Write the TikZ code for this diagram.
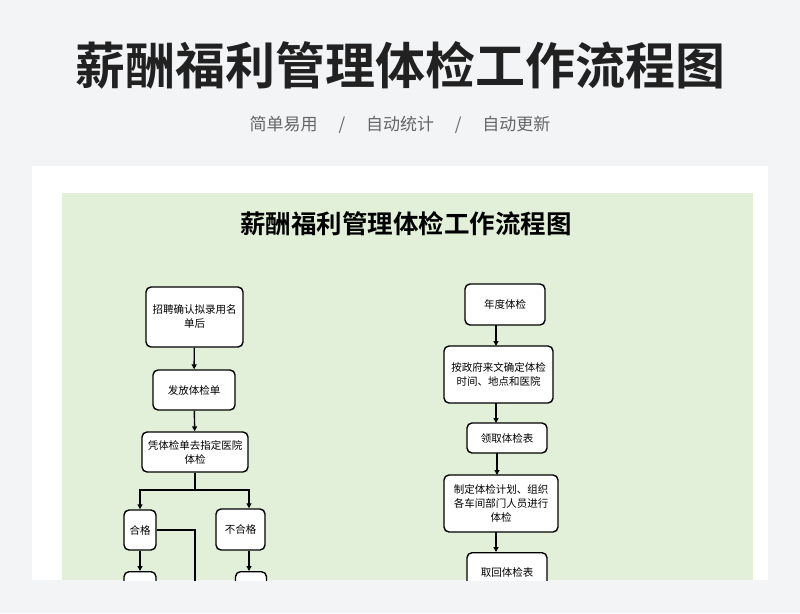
\documentclass[tikz,border=0pt]{standalone}
\usepackage{fontspec}
\setmainfont{Noto Sans CJK SC}
\newfontfamily\cjkb{Noto Sans CJK SC Bold}
\usetikzlibrary{arrows.meta}
\definecolor{pagebg}{HTML}{F3F4F6}
\definecolor{panel}{HTML}{E2F0DA}
\tikzset{box/.style={draw=black,line width=1.4pt,rounded corners=5pt,fill=white,align=center,font=\fontsize{10.5}{14}\selectfont,inner sep=0pt},
arr/.style={line width=1.4pt,-{Triangle[length=5pt,width=5pt]}},
ln/.style={line width=1.4pt}}
\begin{document}
\begin{tikzpicture}[x=1pt,y=-1pt]
\useasboundingbox (0,0) rectangle (800,613);
\fill[pagebg] (0,0) rectangle (800,613);
\node[font=\cjkb\fontsize{50}{54}\selectfont,text=black!87] (t) at (400,65) {薪酬福利管理体检工作流程图};
\node[font=\fontsize{17}{20}\selectfont,text=black!60] (s) at (400,125) {简单易用\quad\ /\quad\ 自动统计\quad\ /\quad\ 自动更新};
\fill[white] (32,166) rectangle (768,580);
\fill[panel] (62,193) rectangle (753,580);
\node[font=\cjkb\fontsize{25.5}{28}\selectfont] (t2) at (406,224) {薪酬福利管理体检工作流程图};
\begin{scope}
\clip (62,193) rectangle (753,580);
\node[box,minimum width=97pt,minimum height=60pt] (a) at (194.5,317) {招聘确认拟录用名\\单后};
\node[box,minimum width=82pt,minimum height=40pt] (b) at (194,390) {发放体检单};
\node[box,minimum width=106pt,minimum height=40pt] (c) at (195,452) {凭体检单去指定医院\\体检};
\node[box,minimum width=32pt,minimum height=40pt] (d) at (140,530) {合格};
\node[box,minimum width=49pt,minimum height=41pt] (e) at (240.5,529.5) {不合格};
\node[box,minimum width=32pt,minimum height=40pt,anchor=north] (f) at (140,571) {};
\node[box,minimum width=31pt,minimum height=40pt,anchor=north] (g) at (251,571) {};
\draw[arr] (a) -- (b);
\draw[arr] (b) -- (c);
\coordinate (j) at (195,490);
\draw[ln] (c.south) -- (j);
\draw[arr] (j) -| (d.north);
\draw[arr] (j) -| ([xshift=8.5pt]e.north);
\draw[arr] (d) -- (f);
\draw[arr] ([xshift=8.5pt]e.south) -- ([xshift=-2pt]g.north);
\coordinate (k) at (195,600);
\draw[ln] (d.east) -| (k);
\node[box,minimum width=80pt,minimum height=41pt] (r1) at (505,304.5) {年度体检};
\node[box,minimum width=109pt,minimum height=57pt] (r2) at (498.5,374.5) {按政府来文确定体检\\时间、地点和医院};
\node[box,minimum width=80pt,minimum height=30pt] (r3) at (507,438) {领取体检表};
\node[box,minimum width=114pt,minimum height=57pt] (r4) at (501,503.5) {制定体检计划、组织\\各车间部门人员进行\\体检};
\node[box,minimum width=80pt,minimum height=40pt,anchor=north] (r5) at (507,552) {取回体检表};
\draw[arr] (496,325) -- (496,346);
\draw[arr] (496,403) -- (496,423);
\draw[arr] (497,453) -- (497,475);
\draw[arr] (496,532) -- (496,552);
\end{scope}
\end{tikzpicture}
\end{document}
